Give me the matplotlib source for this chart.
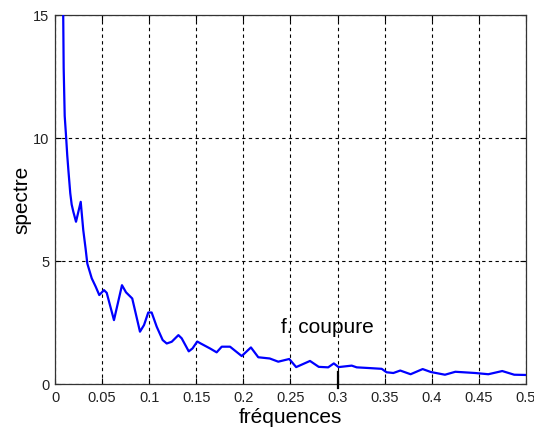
import matplotlib
matplotlib.use("Agg")
import matplotlib.pyplot as plt

plt.rcParams['font.family'] = ['Liberation Sans', 'DejaVu Sans']

freqs = [0.0085, 0.0092, 0.0103, 0.0117, 0.0130, 0.0142, 0.0162, 0.0177, 0.0195,
         0.0223, 0.0273, 0.0300, 0.0325, 0.0343, 0.0390, 0.0432, 0.0470, 0.0520,
         0.0549, 0.0626, 0.0711, 0.0754, 0.0820, 0.0902, 0.0945, 0.0990, 0.1026,
         0.1080, 0.1143, 0.1186, 0.1239, 0.1310, 0.1345, 0.1420, 0.1460, 0.1510,
         0.1547, 0.1645, 0.1716, 0.1770, 0.1858, 0.1982, 0.2080, 0.2158, 0.2280,
         0.2370, 0.2487, 0.2560, 0.2707, 0.2800, 0.2900, 0.2960, 0.3010, 0.3150,
         0.3203, 0.3340, 0.3468, 0.3520, 0.3592, 0.3665, 0.3775, 0.3903, 0.3990,
         0.4140, 0.4250, 0.4460, 0.4600, 0.4748, 0.4875, 0.5000]
spectre = [16.0, 12.85, 10.9, 10.1, 9.3, 8.7, 7.76, 7.3, 7.0,
           6.6, 7.41, 6.26, 5.5, 4.9, 4.3, 3.96, 3.62, 3.82,
           3.71, 2.6, 4.02, 3.73, 3.48, 2.13, 2.4, 2.91, 2.91,
           2.33, 1.79, 1.65, 1.72, 1.99, 1.86, 1.33, 1.45, 1.73,
           1.65, 1.45, 1.29, 1.52, 1.52, 1.14, 1.49, 1.09, 1.04,
           0.91, 1.02, 0.69, 0.94, 0.70, 0.68, 0.84, 0.69, 0.75,
           0.68, 0.65, 0.62, 0.48, 0.45, 0.55, 0.40, 0.61, 0.49,
           0.38, 0.50, 0.45, 0.40, 0.53, 0.38, 0.37]

x_ticks = [0, 0.05, 0.1, 0.15, 0.2, 0.25, 0.3, 0.35, 0.4, 0.45, 0.5]
x_ticklabels = ['0', '0.05', '0.1', '0.15', '0.2', '0.25', '0.3', '0.35', '0.4', '0.45', '0.5']
y_ticks = [0, 5, 10, 15]
f_cut = 0.3
annot_text = 'f. coupure'

fig = plt.figure(figsize=(5.34, 4.33), dpi=100)
ax = fig.add_axes([0.103, 0.113, 0.882, 0.852])

ax.plot(freqs, spectre, color='#0000ff', lw=1.6, zorder=3)
ax.plot([f_cut, f_cut], [-0.15, 0.5], color='black', lw=1.6, clip_on=False, zorder=4)
ax.text(0.24, 2.3, annot_text, fontsize=15, va='center', ha='left')

ax.set_xlim(0, 0.5)
ax.set_ylim(0, 15)
ax.set_xticks(x_ticks)
ax.set_xticklabels(x_ticklabels)
ax.set_yticks(y_ticks)
ax.tick_params(direction='in', top=True, right=True, labelsize=10.5, length=4, width=0.8,
               labelcolor='#222222')
ax.tick_params(axis='x', pad=5)
ax.tick_params(axis='y', pad=4)
ax.grid(True, color='black', linestyle=(0, (3, 3)), linewidth=0.8)
for s in ax.spines.values():
    s.set_color('#333333')
    s.set_linewidth(0.9)

ax.set_xlabel('fréquences', fontsize=15, labelpad=2)
ax.set_ylabel('spectre', fontsize=15, labelpad=1)

fig.savefig('out.png', dpi=100)
